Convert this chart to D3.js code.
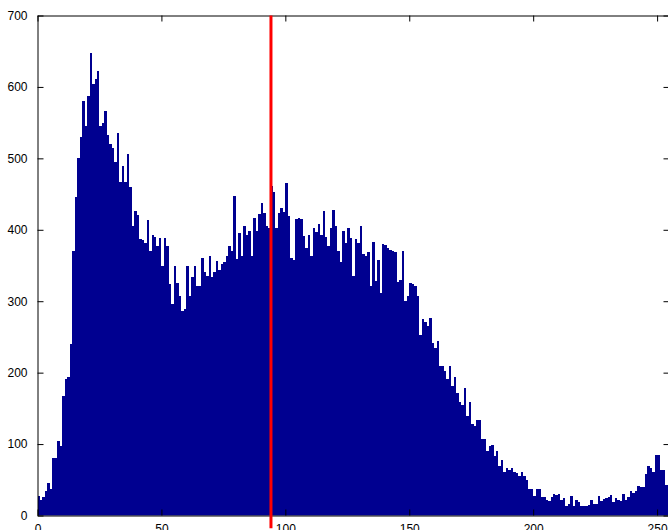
<!DOCTYPE html>
<html>
<head>
<meta charset="utf-8">
<script src="https://cdn.jsdelivr.net/npm/d3@7"></script>
<style>
  html, body { margin: 0; padding: 0; background: #fff; }
  svg { display: block; }
  text { font-family: "Liberation Sans", Arial, Helvetica, sans-serif; }
</style>
</head>
<body>
<svg id="chart" width="668" height="530"></svg>
<script>
// ---- data ----
const counts = [
  28,22,26,34,45,37,80,80,104,98,
  168,191,194,240,370,446,500,530,581,545,
  588,648,604,611,623,545,550,566,533,520,
  515,495,535,467,489,467,506,460,406,427,
  421,387,386,381,414,370,393,390,377,389,
  350,388,378,324,296,350,326,307,286,289,
  350,308,334,350,321,321,360,341,335,364,
  334,341,357,344,352,355,364,378,371,447,
  359,396,364,406,393,399,364,417,399,422,
  438,424,406,402,461,453,402,424,430,425,
  466,420,360,358,415,417,415,391,375,393,
  363,402,397,408,393,427,390,378,403,428,
  405,370,355,399,381,402,389,336,387,381,
  405,366,364,369,322,383,329,358,311,380,
  379,375,372,371,369,327,330,371,301,308,
  326,324,321,308,253,275,271,266,277,241,
  234,244,210,209,202,191,209,181,194,171,
  159,155,179,140,159,128,125,134,134,107,
  107,90,97,99,83,90,69,78,61,67,
  64,67,61,59,56,61,55,50,37,37,
  27,37,37,26,26,22,21,26,30,29,
  30,22,24,13,16,28,14,22,19,13,
  13,14,15,22,16,16,27,20,23,24,
  26,29,19,25,22,20,30,22,26,34,
  31,34,42,40,40,58,69,67,61,85,
  85,64,64,43,43,40
];
const bins = d3.range(counts.length);          // grey levels 0..255
const xTicks = [0, 50, 100, 150, 200, 250];
const yTicks = [0, 100, 200, 300, 400, 500, 600, 700];
const threshold = 94.2;
const xDomain = [0, 255];
const yDomain = [0, 700];

// ---- layout ----
const svg = d3.select("#chart");
const mLeft = 37.5, mRight = 669.5, mTop = 15.5, mBottom = 515.5;
const x = d3.scaleLinear().domain(xDomain).range([mLeft, mRight]);
const y = d3.scaleLinear().domain(yDomain).range([mBottom, mTop]);

svg.append("rect").attr("width", 668).attr("height", 530).attr("fill", "#fff");

svg.append("defs").append("clipPath").attr("id", "plotclip")
  .append("rect").attr("x", mLeft).attr("y", mTop)
  .attr("width", mRight - mLeft).attr("height", mBottom - mTop);

// bars
svg.append("g").attr("clip-path", "url(#plotclip)")
  .selectAll("rect").data(bins).join("rect")
  .attr("x", d => x(d))
  .attr("width", d => x(d + 1) - x(d))
  .attr("y", d => y(counts[d]))
  .attr("height", d => y(0) - y(counts[d]))
  .attr("fill", "#000090")
  .attr("shape-rendering", "crispEdges");

// axes (MATLAB style: box, inward ticks)
const tickLen = 6;
const axL = d3.axisLeft(y).tickValues(yTicks).tickSizeInner(-tickLen).tickSizeOuter(0).tickPadding(tickLen + 4);
const axR = d3.axisRight(y).tickValues(yTicks).tickSizeInner(-tickLen).tickSizeOuter(0).tickFormat("");
const axB = d3.axisBottom(x).tickValues(xTicks).tickSizeInner(-tickLen).tickSizeOuter(0).tickPadding(tickLen + 3);
const axT = d3.axisTop(x).tickValues(xTicks).tickSizeInner(-tickLen).tickSizeOuter(0).tickFormat("");

function style(g) {
  g.selectAll("path.domain").attr("stroke", "#000").attr("stroke-width", 1);
  g.selectAll(".tick line").attr("stroke", "#000").attr("stroke-width", 1);
  g.selectAll(".tick text").attr("fill", "#000").style("font-size", "12px")
    .style("font-family", '"Liberation Sans", Arial, sans-serif');
}
svg.append("g").attr("transform", `translate(${mLeft},0)`).call(axL).call(style);
svg.append("g").attr("transform", `translate(${mRight},0)`).call(axR).call(style);
svg.append("g").attr("transform", `translate(0,${mBottom})`).call(axB).call(style);
svg.append("g").attr("transform", `translate(0,${mTop})`).call(axT).call(style);

// threshold line
svg.append("line")
  .attr("x1", x(threshold)).attr("x2", x(threshold))
  .attr("y1", y(700)).attr("y2", y(-18))
  .attr("stroke", "#ff0000").attr("stroke-width", 3);
</script>
</body>
</html>
